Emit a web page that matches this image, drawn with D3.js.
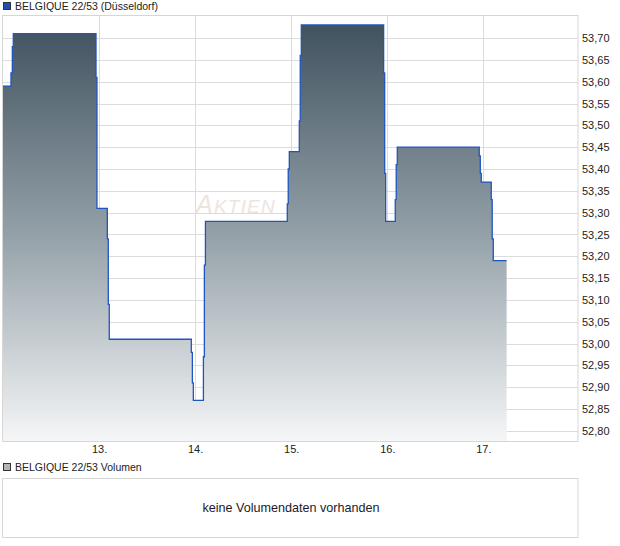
<!DOCTYPE html>
<html>
<head>
<meta charset="utf-8">
<script src="https://cdn.jsdelivr.net/npm/d3@7/dist/d3.min.js"></script>
<style>
  html, body { margin: 0; padding: 0; background: #fff; }
  svg { display: block; font-family: "Liberation Sans", Arial, sans-serif; }
</style>
</head>
<body>
<svg id="chart" width="620" height="546"></svg>
<script>
// ---- data ----
const title = "BELGIQUE 22/53 (Düsseldorf)";
const volumeTitle = "BELGIQUE 22/53 Volumen";
const volumeMessage = "keine Volumendaten vorhanden";
// time in fractional day-of-month
const times = [12.000, 12.083, 12.097, 12.107, 12.968, 12.978, 13.086, 13.096, 13.106,
  13.960, 13.971, 13.981, 14.086, 14.096, 14.107, 14.959, 14.969, 14.980,
  15.084, 15.094, 15.105, 15.962, 15.973, 15.983, 16.083, 16.093, 16.104,
  16.957, 16.968, 16.978, 17.082, 17.092, 17.103, 17.242];
const prices = [53.59, 53.62, 53.68, 53.71, 53.61, 53.31, 53.24, 53.09, 53.01,
  52.98, 52.91, 52.87, 52.97, 53.18, 53.28, 53.32, 53.40, 53.44,
  53.51, 53.66, 53.73, 53.62, 53.39, 53.28, 53.33, 53.41, 53.45,
  53.43, 53.39, 53.37, 53.33, 53.24, 53.19, 53.19];
const dayTicks = [13, 14, 15, 16, 17];
const priceTicks = [52.80, 52.85, 52.90, 52.95, 53.00, 53.05, 53.10, 53.15, 53.20, 53.25,
  53.30, 53.35, 53.40, 53.45, 53.50, 53.55, 53.60, 53.65, 53.70];

const data = times.map((t, i) => ({ t, v: prices[i] }));

// ---- layout ----
const svg = d3.select("#chart");
const plot = { left: 3, right: 578, top: 15, bottom: 441 };
const vol = { left: 3, right: 578, top: 478, bottom: 537 };
const gridColor = "#dcdcdc";
const frameColor = "#d6d6d6";
const textColor = "#222";

const x = d3.scaleLinear().domain([12, 17.985]).range([plot.left, plot.right]);
const y = d3.scaleLinear().domain([52.777, 53.7527]).range([plot.bottom, plot.top]);

// gradient
const defs = svg.append("defs");
const grad = defs.append("linearGradient").attr("id", "areaGrad")
  .attr("gradientUnits", "userSpaceOnUse")
  .attr("x1", 0).attr("x2", 0).attr("y1", plot.top).attr("y2", plot.bottom);
grad.append("stop").attr("offset", "0").attr("stop-color", "#3d4f5c");
grad.append("stop").attr("offset", "0.5").attr("stop-color", "#919ea6");
grad.append("stop").attr("offset", "1").attr("stop-color", "#f5f6f7");
defs.append("clipPath").attr("id", "plotClip").append("rect")
  .attr("x", plot.left).attr("y", plot.top)
  .attr("width", plot.right - plot.left).attr("height", plot.bottom - plot.top);

// legend
svg.append("rect").attr("x", 3.5).attr("y", 2.5).attr("width", 7).attr("height", 7)
  .attr("fill", "#1f4fb4").attr("stroke", "#333").attr("stroke-width", 1);
svg.append("text").attr("x", 15).attr("y", 10).attr("font-size", 10.5)
  .attr("fill", textColor).text(title);

// grid
const yAxis = d3.axisRight(y).tickValues(priceTicks)
  .tickSize(-(plot.right - plot.left)).tickPadding(4)
  .tickFormat(d => d3.format(".2f")(d).replace(".", ","));
const gy = svg.append("g").attr("transform", `translate(${plot.right},0)`).call(yAxis);
gy.select(".domain").remove();
gy.selectAll("line").attr("stroke", gridColor).attr("shape-rendering", "crispEdges");
gy.selectAll("text").attr("font-size", 11).attr("fill", textColor)
  .attr("font-family", "Liberation Sans, Arial, sans-serif");

const xAxis = d3.axisBottom(x).tickValues(dayTicks)
  .tickSize(-(plot.bottom - plot.top)).tickPadding(4)
  .tickFormat(d => d + ".");
const gx = svg.append("g").attr("transform", `translate(0,${plot.bottom})`).call(xAxis);
gx.select(".domain").remove();
gx.selectAll("line").attr("stroke", gridColor).attr("shape-rendering", "crispEdges");
gx.selectAll("text").attr("font-size", 11).attr("fill", textColor)
  .attr("font-family", "Liberation Sans, Arial, sans-serif");

// watermark
const wm = svg.append("text").attr("x", 236).attr("y", 213)
  .attr("text-anchor", "middle").attr("fill", "#ece5de")
  .attr("font-style", "italic").attr("font-size", 19).attr("letter-spacing", 1.2);
wm.append("tspan").attr("font-size", 25).text("A");
wm.append("tspan").text("KTIEN");

// area + line
const g = svg.append("g").attr("clip-path", "url(#plotClip)");
const area = d3.area().curve(d3.curveStepAfter)
  .x(d => x(d.t)).y0(plot.bottom).y1(d => y(d.v));
g.append("path").datum(data).attr("d", area).attr("fill", "url(#areaGrad)");
const line = d3.line().curve(d3.curveStepAfter).x(d => x(d.t)).y(d => y(d.v));
g.append("path").datum(data).attr("d", line).attr("fill", "none")
  .attr("stroke", "#1f55c0").attr("stroke-width", 1.3);

// frame
svg.append("rect").attr("x", plot.left - 0.5).attr("y", plot.top + 0.5)
  .attr("width", plot.right - plot.left + 0.5).attr("height", plot.bottom - plot.top)
  .attr("fill", "none").attr("stroke", frameColor);

// volume panel
svg.append("rect").attr("x", 3.5).attr("y", 463.5).attr("width", 7).attr("height", 7)
  .attr("fill", "#b4b4b4").attr("stroke", "#333").attr("stroke-width", 1);
svg.append("text").attr("x", 15).attr("y", 471).attr("font-size", 10.5)
  .attr("fill", textColor).text(volumeTitle);
svg.append("rect").attr("x", vol.left - 0.5).attr("y", vol.top + 0.5)
  .attr("width", vol.right - vol.left + 0.5).attr("height", vol.bottom - vol.top)
  .attr("fill", "none").attr("stroke", frameColor);
svg.append("text").attr("x", 291).attr("y", 512)
  .attr("text-anchor", "middle").attr("font-size", 12.6).attr("fill", "#1a1a2a")
  .text(volumeMessage);
</script>
</body>
</html>
